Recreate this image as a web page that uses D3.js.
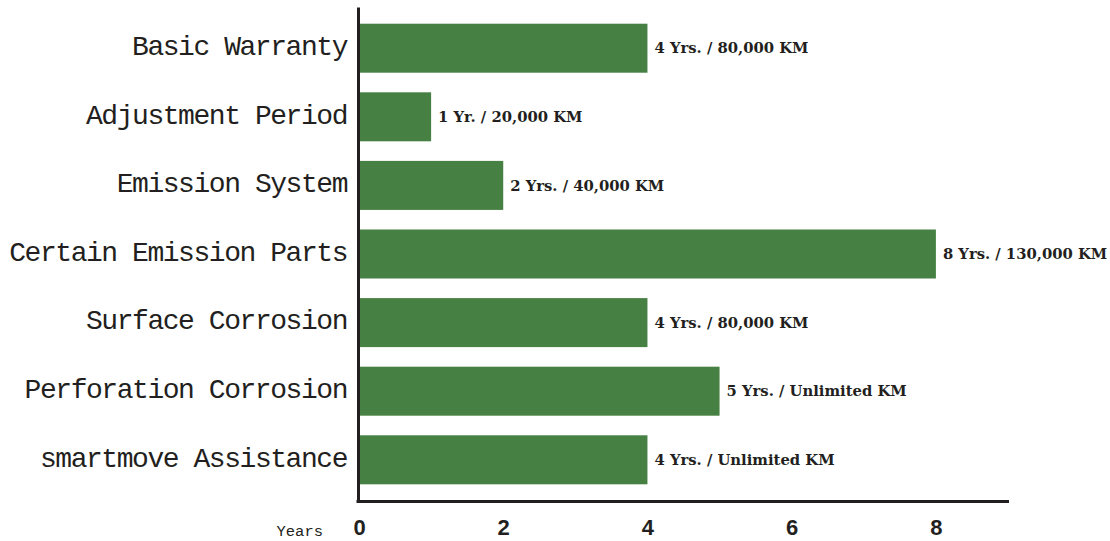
<!DOCTYPE html>
<html>
<head>
<meta charset="utf-8">
<script src="https://cdn.jsdelivr.net/npm/d3@7"></script>
<style>
  body { margin: 0; background: #fff; }
  svg { display: block; }
</style>
</head>
<body>
<svg id="chart" width="1110" height="541"></svg>
<script>
// warranty coverage, years + km
const categories = ["Basic Warranty", "Adjustment Period", "Emission System", "Certain Emission Parts",
  "Surface Corrosion", "Perforation Corrosion", "smartmove Assistance"];
const years = [4, 1, 2, 8, 4, 5, 4];
const valueLabels = ["4 Yrs. / 80,000 KM", "1 Yr. / 20,000 KM", "2 Yrs. / 40,000 KM", "8 Yrs. / 130,000 KM",
  "4 Yrs. / 80,000 KM", "5 Yrs. / Unlimited KM", "4 Yrs. / Unlimited KM"];
const xTicks = [0, 2, 4, 6, 8];

const svg = d3.select("#chart");
const ink = "#231f20";
const green = "#468043";

let xscale = d3.scaleLinear().domain([0, 9]).range([359, 1008]);
let yscale = d3.scaleBand().domain(categories).range([7, 501])
  .paddingInner(0.2857).paddingOuter(0.2435);

// bars
svg.append("g").selectAll("rect")
  .data(years)
  .join("rect")
  .attr("x", xscale(0))
  .attr("y", (d, i) => yscale(categories[i]))
  .attr("width", d => xscale(d) - xscale(0))
  .attr("height", yscale.bandwidth())
  .attr("fill", green);

// value labels
svg.append("g").selectAll("text")
  .data(years)
  .join("text")
  .attr("x", d => xscale(d) + 7)
  .attr("y", (d, i) => yscale(categories[i]) + yscale.bandwidth() / 2)
  .attr("dy", "0.35em")
  .attr("font-family", "DejaVu Serif")
  .attr("font-weight", "bold")
  .attr("font-size", 14.8)
  .attr("fill", ink)
  .text((d, i) => valueLabels[i]);

// y axis
let yAxis = d3.axisLeft(yscale).tickSize(0).tickPadding(11);
let gy = svg.append("g").attr("transform", `translate(${xscale(0) - 1},0)`).call(yAxis);
gy.select(".domain").attr("stroke", ink).attr("stroke-width", 3);
gy.selectAll("text")
  .attr("font-family", "Liberation Mono")
  .attr("font-size", 28)
  .attr("letter-spacing", -1.45)
  .attr("dy", "0.24em")
  .attr("fill", ink);

// x axis
let xAxis = d3.axisBottom(xscale).tickValues(xTicks).tickSize(0).tickSizeOuter(0).tickPadding(18);
let gx = svg.append("g").attr("transform", `translate(0,${yscale.range()[1] + 0.5})`).call(xAxis);
gx.select(".domain").attr("stroke", ink).attr("stroke-width", 3)
  .attr("d", `M${xscale(0) - 2.5},0H${xscale.range()[1] + 1}`);
gx.selectAll("text")
  .attr("font-family", "Liberation Sans")
  .attr("font-weight", "bold")
  .attr("font-size", 22)
  .attr("fill", ink);

svg.append("text")
  .attr("x", 323)
  .attr("y", 531)
  .attr("dy", "0.35em")
  .attr("text-anchor", "end")
  .attr("font-family", "Liberation Mono")
  .attr("font-size", 15.5)
  .attr("fill", ink)
  .text("Years");
</script>
</body>
</html>
